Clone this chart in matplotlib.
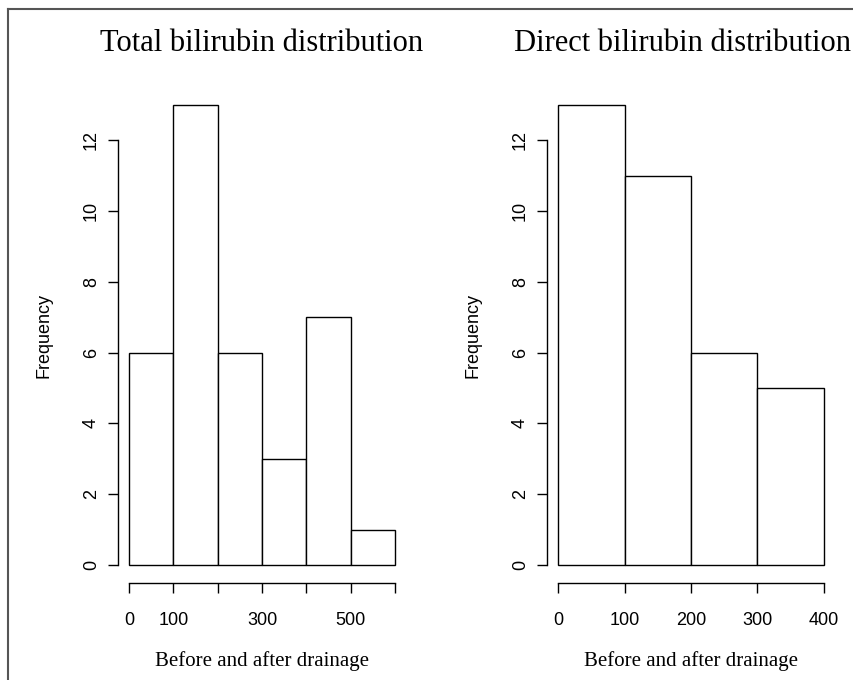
import matplotlib.pyplot as plt
from matplotlib.lines import Line2D

# histogram bins and counts
total_edges = [0, 100, 200, 300, 400, 500, 600]
total_counts = [6, 13, 6, 3, 7, 1]
total_ticklabels = ["0", "100", "", "300", "", "500", ""]

direct_edges = [0, 100, 200, 300, 400]
direct_counts = [13, 11, 6, 5]
direct_ticklabels = ["0", "100", "200", "300", "400"]

y_ticks = [0, 2, 4, 6, 8, 10, 12]

titles = ["Total bilirubin distribution", "Direct bilirubin distribution"]
x_label = "Before and after drainage"
y_label = "Frequency"

SANS = ["Liberation Sans", "DejaVu Sans"]
SERIF = ["Liberation Serif", "DejaVu Serif"]

W, H = 854, 680
fig = plt.figure(figsize=(W / 100, H / 100), dpi=100)
fig.patch.set_facecolor("white")

# axes boxes in pixels: left, right, top, bottom
boxes = [(118.4, 405.6, 86.6, 583.4), (547.4, 834.6, 86.6, 583.4)]


def draw_hist(box, edges, counts, ticklabels, title, title_shift=0.0):
    l, r, t, b = box
    ax = fig.add_axes([l / W, 1 - b / H, (r - l) / W, (b - t) / H])
    lefts = edges[:-1]
    widths = [edges[i + 1] - edges[i] for i in range(len(counts))]
    ax.bar(lefts, counts, width=widths, align="edge", color="white",
           edgecolor="black", linewidth=1.0)
    span = edges[-1] - edges[0]
    ax.set_xlim(edges[0] - 0.04 * span, edges[-1] + 0.04 * span)
    ax.set_ylim(-0.52, 13.52)
    for side in ("top", "right"):
        ax.spines[side].set_visible(False)
    ax.spines["bottom"].set_bounds(edges[0], edges[-1])
    ax.spines["left"].set_bounds(y_ticks[0], y_ticks[-1])
    for side in ("bottom", "left"):
        ax.spines[side].set_linewidth(1.0)
    ax.set_xticks(edges)
    ax.set_xticklabels(ticklabels, fontfamily=SANS, fontsize=13)
    ax.set_yticks(y_ticks)
    ax.set_yticklabels([str(v) for v in y_ticks], fontfamily=SANS, fontsize=13,
                       rotation=90, va="center")
    ax.tick_params(axis="x", direction="out", length=7.2, width=1.0, pad=13.5)
    ax.tick_params(axis="y", direction="out", length=7.2, width=1.0, pad=6)
    ax.text(0.5 + title_shift / (r - l), 1 + 43 / (b - t), title,
            transform=ax.transAxes, ha="center", va="center",
            fontfamily=SERIF, fontsize=22)
    ax.set_xlabel(x_label, fontfamily=SERIF, fontsize=15)
    ax.xaxis.set_label_coords(0.5, -78 / (b - t))
    ax.xaxis.label.set_va("center")
    ax.set_ylabel(y_label, fontfamily=SANS, fontsize=13)
    ax.yaxis.set_label_coords(-74 / (r - l), 0.5)
    ax.yaxis.label.set_va("center")
    return ax


draw_hist(boxes[0], total_edges, total_counts, total_ticklabels, titles[0])
# nudge the right title in a little so it is not clipped by the figure edge
draw_hist(boxes[1], direct_edges, direct_counts, direct_ticklabels, titles[1],
          title_shift=-9)

# frame lines left over from the original screenshot crop
fig.add_artist(Line2D([8 / W, 8 / W], [0, 1 - 9 / H], color="#555555",
                      linewidth=1.5, transform=fig.transFigure))
fig.add_artist(Line2D([8 / W, 1], [1 - 9 / H, 1 - 9 / H], color="#555555",
                      linewidth=1.5, transform=fig.transFigure))

fig.savefig("out.png", dpi=100)
